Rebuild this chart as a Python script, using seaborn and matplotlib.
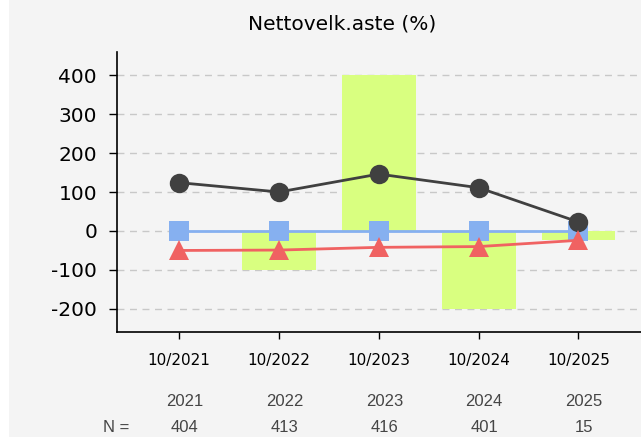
import matplotlib
matplotlib.use("Agg")
import matplotlib.pyplot as plt
import matplotlib.transforms as mtransforms
from matplotlib.patches import Rectangle
import seaborn as sns
import pandas as pd
import numpy as np

# ---- data ----
periods = ["10/2021", "10/2022", "10/2023", "10/2024", "10/2025"]
years = ["2021", "2022", "2023", "2024", "2025"]
n_values = ["404", "413", "416", "401", "15"]
bar_values = [0, -100, 400, -200, -22]
black_values = [124, 100, 146, 111, 23]
blue_values = [0, 0, 0, 0, 0]
red_values = [-50, -49, -42, -40, -24]
yticks = [-200, -100, 0, 100, 200, 300, 400]
title = "Nettovelk.aste (%)"

sns.set_theme(style="white")
plt.rcParams["font.family"] = ["DejaVu Sans"]

W, H = 641, 437
fig = plt.figure(figsize=(W / 100, H / 100), dpi=100, facecolor="#f4f4f4")
fig.patches.append(Rectangle((0, 0), 9 / W, 1, transform=fig.transFigure,
                             facecolor="white", edgecolor="none", zorder=0))
ax = fig.add_axes([116.5 / W, 1 - 332.3 / H, 1 - 116.5 / W, (332.3 - 51.7) / H])
ax.set_facecolor("#f4f4f4")

df = pd.DataFrame({"period": periods, "bar": bar_values})
sns.barplot(data=df, x="period", y="bar", color="#d9ff80", saturation=1,
            width=0.74, linewidth=0, ax=ax, zorder=2)

idx = np.arange(len(periods))
sns.lineplot(x=idx, y=blue_values, color="#86b0f0", marker="s", markersize=14,
             markeredgewidth=0, linewidth=2, ax=ax, zorder=3)
sns.lineplot(x=idx, y=black_values, color="#404040", marker="o", markersize=14,
             markeredgewidth=0, linewidth=2, ax=ax, zorder=4)
sns.lineplot(x=idx, y=red_values, color="#f06262", marker="^", markersize=14,
             markeredgewidth=0, linewidth=2, ax=ax, zorder=5)

ax.set_xlim(-0.627, 4.626)
ax.set_ylim(-260, 460)
ax.set_xticks(idx)
ax.set_xticklabels(periods, fontsize=11)
ax.set_yticks(yticks)
ax.set_yticklabels([str(v) for v in yticks], fontsize=14.5)
ax.set_xlabel("")
ax.set_ylabel("")

ax.grid(axis="y", color="#c8c8c8", linestyle=(0, (5, 4)), linewidth=1)
ax.set_axisbelow(True)
ax.tick_params(axis="x", direction="out", length=5, width=1, pad=10, colors="black")
ax.tick_params(axis="y", direction="out", length=6, width=1, pad=8, colors="black")
ax.tick_params(bottom=True, left=True)
for s in ["top", "right"]:
    ax.spines[s].set_visible(False)
for s in ["left", "bottom"]:
    ax.spines[s].set_color("black")
    ax.spines[s].set_linewidth(1.2)

fig.text(342 / W, 1 - 24.5 / H, title, ha="center", va="center", fontsize=14.5, color="black")

trans = mtransforms.blended_transform_factory(ax.transData, fig.transFigure)
for i, (yr, n) in enumerate(zip(years, n_values)):
    ax.text(i + 0.055, 1 - 402 / H, yr, transform=trans, ha="center", va="center",
            fontsize=12, color="#454545", family="Liberation Sans", clip_on=False)
    ax.text(i + 0.055, 1 - 428 / H, n, transform=trans, ha="center", va="center",
            fontsize=12, color="#454545", family="Liberation Sans", clip_on=False)
fig.text(116 / W, 1 - 428 / H, "N =", ha="center", va="center", fontsize=12,
         color="#454545", family="Liberation Sans")

fig.savefig("out.png", dpi=100, facecolor=fig.get_facecolor())
